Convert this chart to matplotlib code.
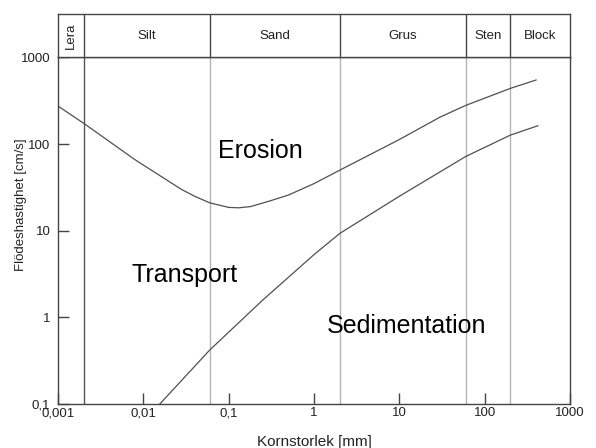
import numpy as np
import matplotlib
matplotlib.use("Agg")
import matplotlib.pyplot as plt

plt.rcParams['font.family'] = ['Liberation Sans', 'DejaVu Sans']

# kornstorleksklasser [mm]
class_names = ["Lera", "Silt", "Sand", "Grus", "Sten", "Block"]
class_edges = [0.001, 0.002, 0.06, 2, 60, 200, 1000]

# erosionskurva (avläst)
erosion_size = [0.001, 0.002, 0.008, 0.028, 0.04, 0.06, 0.1, 0.13, 0.18, 0.3, 0.5, 1, 2, 10, 30, 60, 200, 400]
erosion_vel = [275, 174, 66, 30, 25, 21, 18.6, 18.4, 19, 22, 25.8, 35, 50, 113, 205, 280, 440, 550]

# sedimentationskurva (avläst)
sed_size = [0.0156, 0.06, 0.25, 1, 2, 10, 60, 200, 420]
sed_vel = [0.1, 0.42, 1.58, 5.3, 9.3, 25, 72, 127, 163]

x_ticks = [0.001, 0.01, 0.1, 1, 10, 100, 1000]
x_ticklabels = ["0,001", "0,01", "0,1", "1", "10", "100", "1000"]
y_ticks = [0.1, 1, 10, 100, 1000]
y_ticklabels = ["0,1", "1", "10", "100", "1000"]

dark = '#444444'
W, H = 596, 448
fig = plt.figure(figsize=(W/100, H/100), dpi=100)

# huvuddiagram
ax = fig.add_axes([58/W, 44/H, 512/W, 346.5/H])
ax.set_xscale('log')
ax.set_yscale('log')
ax.set_xlim(class_edges[0], class_edges[-1])
ax.set_ylim(0.1, 1000)

#gränslinjer
ax.axvline(class_edges[1], color='#555555', lw=1.0)
for e in class_edges[2:-1]:
    ax.axvline(e, color='#b4b4b4', lw=1.0)

ax.plot(erosion_size, erosion_vel, color='#505050', lw=0.9)
ax.plot(sed_size, sed_vel, color='#505050', lw=0.9)

ax.text(0.074, 68.6, "Erosion", fontsize=18, ha='left', va='baseline')
ax.text(0.0073, 2.58, "Transport", fontsize=18, ha='left', va='baseline')
ax.text(1.4, 0.653, "Sedimentation", fontsize=18, ha='left', va='baseline')

ax.xaxis.set_minor_locator(matplotlib.ticker.NullLocator())
ax.yaxis.set_minor_locator(matplotlib.ticker.NullLocator())
ax.set_xticks(x_ticks)
ax.set_xticklabels(x_ticklabels)
ax.set_yticks(y_ticks)
ax.set_yticklabels(y_ticklabels)
ax.tick_params(axis='both', direction='in', length=8, width=1.0, color=dark, labelsize=9.5, labelcolor='#222222')
ax.tick_params(axis='x', pad=2.5)
ax.tick_params(axis='y', pad=5.5)
for s in ax.spines.values():
    s.set_color(dark)
    s.set_linewidth(1.0)

ax.set_ylabel("Flödeshastighet [cm/s]", fontsize=9.5, color='#222222')
ax.yaxis.set_label_coords(-0.06, 0.574)
ax.set_xlabel("Kornstorlek [mm]", fontsize=11, color='#222222')
ax.xaxis.set_label_coords(0.5, -0.09)

# rubrikrad med klasser
hx = fig.add_axes([58/W, 390.5/H, 512/W, 43.2/H])
hx.set_xscale('log')
hx.set_xlim(class_edges[0], class_edges[-1])
hx.set_ylim(0, 1)
hx.xaxis.set_minor_locator(matplotlib.ticker.NullLocator())
hx.set_xticks([])
hx.set_yticks([])
for s in hx.spines.values():
    s.set_color(dark)
    s.set_linewidth(1.0)
for e in class_edges[1:-1]:
    hx.axvline(e, color=dark, lw=1.0)
for i in range(len(class_names)):
    c = np.sqrt(class_edges[i] * class_edges[i+1])
    rot = 90 if class_names[i] == "Lera" else 0
    hx.text(c, 0.5, class_names[i], fontsize=9.5, ha='center', va='center', rotation=rot, color='#222222')

fig.savefig("out.png", dpi=100)
